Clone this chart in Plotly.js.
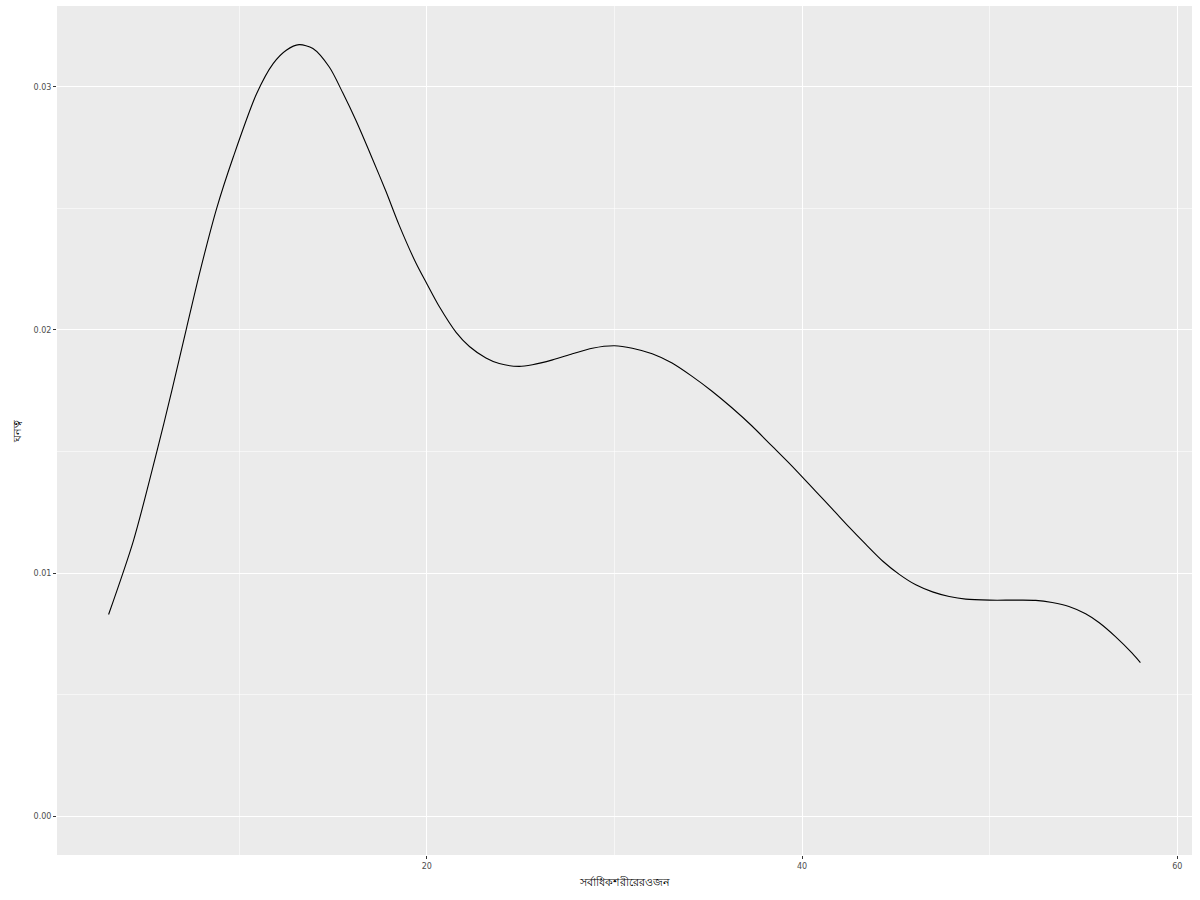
<!DOCTYPE html>
<html>
<head>
<meta charset="utf-8">
<script src="https://cdn.plot.ly/plotly-3.0.1.min.js"></script>
<style>html,body{margin:0;padding:0;background:#fff;}#chart{width:1200px;height:900px;}</style>
</head>
<body>
<div id="chart"></div>
<script>
// Density curve of maximum body mass
const bodyMass = [3.04, 4.37, 5.61, 6.41, 7.20, 7.91, 8.80, 9.68, 10.92, 11.81, 12.51, 13.19, 13.93, 14.81, 15.52, 16.23, 17.12, 17.82, 18.53, 19.42, 20.0, 20.67, 21.56, 22.27, 23.15, 23.86, 24.92, 25.63, 26.7, 27.76, 28.82, 30.0, 30.95, 32.01, 33.07, 34.14, 35.2, 36.26, 37.33, 38.39, 39.45, 40.74, 41.63, 42.52, 43.4, 44.29, 45.18, 46.06, 46.95, 47.84, 48.72, 50.0, 51.38, 52.45, 53.33, 54.22, 55.11, 55.82, 56.7, 57.59, 58.03];
const density = [0.0083, 0.01135, 0.0150, 0.0175, 0.0201, 0.0224, 0.0250, 0.0271, 0.0297, 0.03095, 0.0315, 0.03173, 0.03157, 0.0308, 0.02975, 0.0286, 0.0270, 0.0257, 0.0243, 0.02275, 0.0219, 0.02095, 0.0199, 0.01932, 0.01885, 0.01862, 0.0185, 0.01857, 0.01877, 0.01902, 0.01925, 0.01935, 0.01925, 0.01902, 0.01864, 0.01809, 0.01748, 0.0168, 0.01605, 0.01523, 0.01441, 0.01335, 0.01262, 0.01188, 0.01118, 0.0105, 0.00995, 0.00952, 0.00923, 0.00904, 0.00893, 0.00889, 0.00889, 0.00888, 0.00879, 0.00863, 0.00833, 0.00797, 0.00739, 0.00671, 0.00632];
const xTickVals = [20, 40, 60];
const yTickVals = [0, 0.01, 0.02, 0.03];
const xTitle = "সর্বাধিকশরীরেরওজন";
const yTitle = "ঘনত্ব";

const trace = {
  x: bodyMass, y: density, type: 'scatter', mode: 'lines',
  line: {color: '#000000', width: 1.1, shape: 'spline', smoothing: 0.8},
  hoverinfo: 'x+y'
};

const tickFont = {family: 'DejaVu Sans, Noto Sans, sans-serif', size: 8, color: '#4D4D4D'};
const layout = {
  width: 1200, height: 900,
  paper_bgcolor: '#FFFFFF', plot_bgcolor: '#EBEBEB',
  margin: {l: 57, r: 8, t: 6, b: 45, pad: 0},
  showlegend: false,
  xaxis: {
    range: [0.29, 60.78], tickvals: xTickVals, ticktext: xTickVals.map(String),
    showgrid: true, gridcolor: '#FFFFFF', gridwidth: 1.1,
    minor: {tickvals: [10, 30, 50], showgrid: true, gridcolor: '#FFFFFF', gridwidth: 0.55, ticks: ''},
    zeroline: false, showline: false,
    ticks: 'outside', ticklen: 3, tickwidth: 1, tickcolor: '#333333',
    tickfont: tickFont,
    title: {text: xTitle, font: {family: 'Noto Sans, DejaVu Sans, sans-serif', size: 11, color: '#000000'}, standoff: 8}
  },
  yaxis: {
    range: [-0.00159, 0.03332], tickvals: yTickVals, tickformat: '.2f',
    showgrid: true, gridcolor: '#FFFFFF', gridwidth: 1.1,
    minor: {tickvals: [0.005, 0.015, 0.025], showgrid: true, gridcolor: '#FFFFFF', gridwidth: 0.55, ticks: ''},
    zeroline: false, showline: false,
    ticks: 'outside', ticklen: 3, tickwidth: 1, tickcolor: '#333333',
    tickfont: tickFont,
    title: {text: yTitle, font: {family: 'Noto Sans, DejaVu Sans, sans-serif', size: 11, color: '#000000'}, standoff: 9}
  }
};

Plotly.newPlot('chart', [trace], layout, {displayModeBar: false, staticPlot: true});
</script>
</body>
</html>
